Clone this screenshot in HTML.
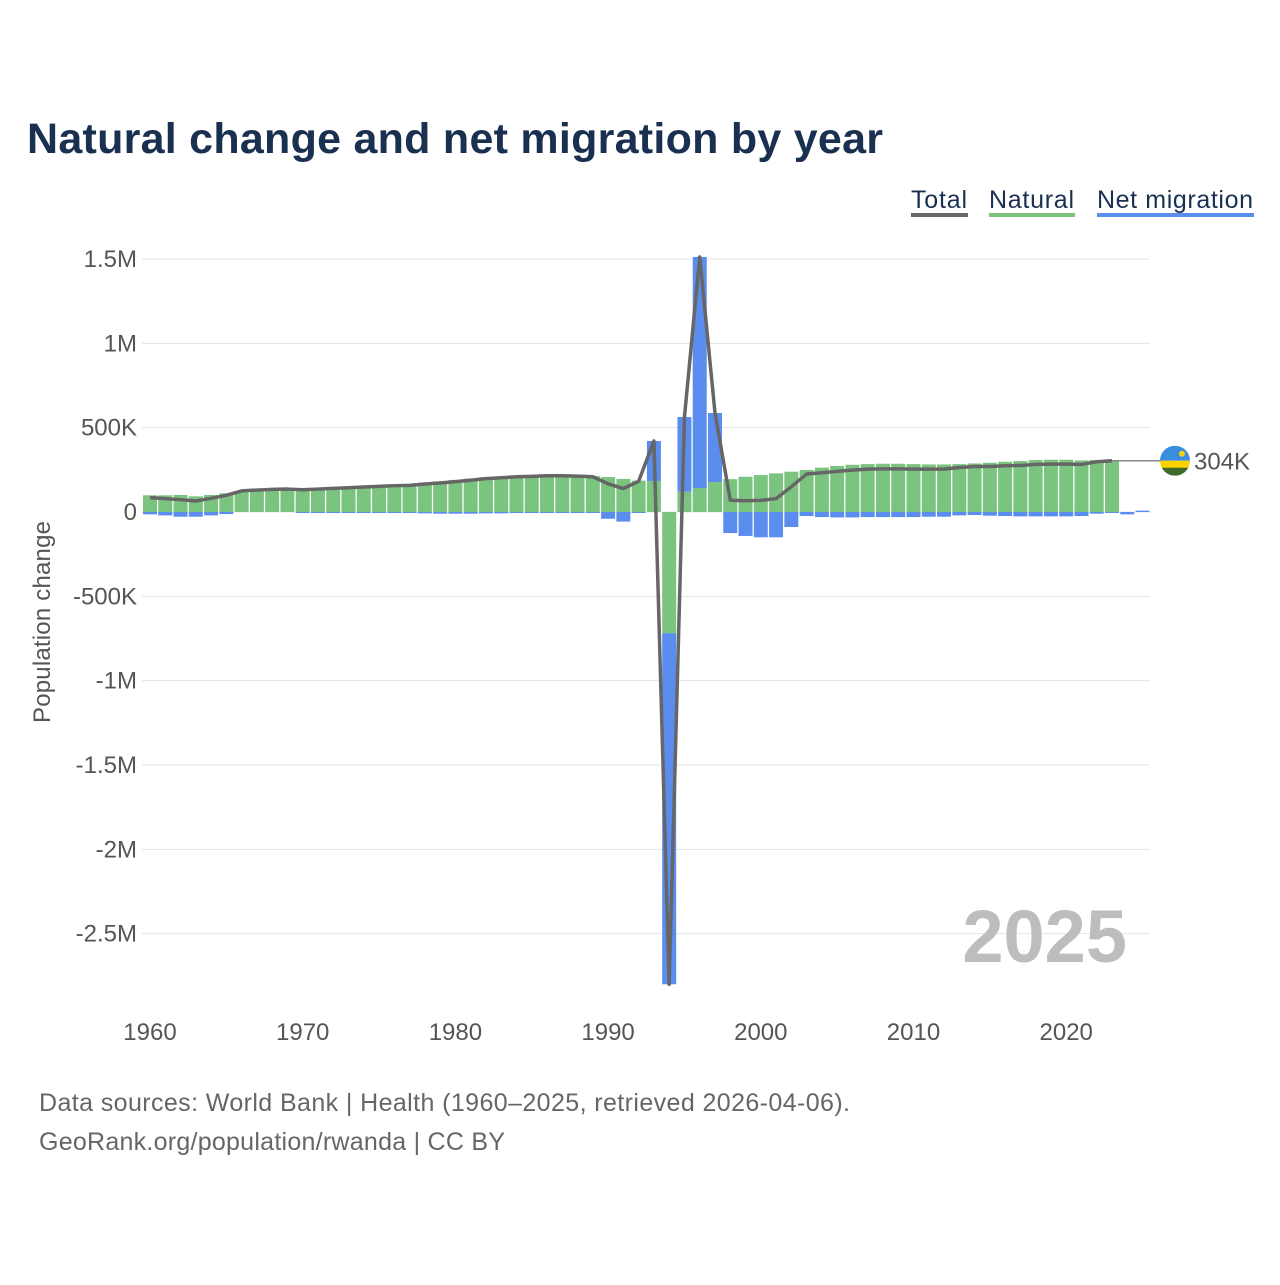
<!DOCTYPE html>
<html><head><meta charset="utf-8"><style>
body{margin:0;background:#fff;width:1280px;height:1280px;overflow:hidden;font-family:"Liberation Sans",sans-serif}
svg text{font-family:"Liberation Sans",sans-serif}
</style></head><body>
<svg id="chart" width="1280" height="1280" xmlns="http://www.w3.org/2000/svg">
<text x="27" y="153" font-size="43" font-weight="bold" fill="#1a3050" textLength="856">Natural change and net migration by year</text>
<g>
<g><text x="911" y="208" font-size="25" fill="#1a3050" textLength="56">Total</text><rect x="911" y="213" width="57" height="4" fill="#666"/></g>
<g><text x="989" y="208" font-size="25" fill="#1a3050" textLength="85">Natural</text><rect x="989" y="213" width="86" height="4" fill="#7bc47f"/></g>
<g><text x="1097" y="208" font-size="25" fill="#1a3050" textLength="156">Net migration</text><rect x="1097" y="213" width="157" height="4" fill="#5b8def"/></g>
</g>
<g id="grid"></g>
<g id="bars"></g>
<g id="line"></g>
<g id="xt"></g>
<text transform="translate(50,622) rotate(-90)" text-anchor="middle" font-size="24" fill="#555" textLength="202">Population change</text>
<text x="1127" y="962" text-anchor="end" font-size="74" font-weight="bold" fill="#bdbdbd">2025</text>
<g id="endlabel"></g>
<text x="39" y="1111" font-size="25" fill="#666" textLength="811">Data sources: World Bank | Health (1960–2025, retrieved 2026-04-06).</text>
<text x="39" y="1150" font-size="25" fill="#666" textLength="466">GeoRank.org/population/rwanda | CC BY</text>
</svg>
<script>
const years=[];for(let y=1960;y<=2025;y++)years.push(y);
const natural=[99,99,101,93,101,111,125,130,134,136,136,140,144,148,152,156,160,164,174,182,190,198,206,211,215,217,219,219,217,213,207,196,186,184,-718,120,142,178,195,209,219,229,239,249,263,273,280,284,286,286,284,282,282,284,288,292,298,302,308,310,310,306,308,308,null,null];
const migration=[-14,-20,-28,-28,-20,-12,0,0,0,0,-4,-4,-4,-4,-4,-4,-4,-6,-8,-10,-10,-10,-8,-8,-6,-6,-4,-4,-4,-4,-40,-57,-4,237,-2082,443,1370,409,-125,-142,-150,-150,-89,-24,-30,-32,-32,-30,-30,-30,-30,-28,-28,-20,-18,-22,-24,-26,-26,-26,-26,-24,-10,-4,-14,8];
const yTicks=[1500,1000,500,0,-500,-1000,-1500,-2000,-2500];
const yTickLabels=["1.5M","1M","500K","0","-500K","-1M","-1.5M","-2M","-2.5M"];
const xTicks=[1960,1970,1980,1990,2000,2010,2020];
const endLabel="304K";
const NS="http://www.w3.org/2000/svg";
const X=y=>150+(y-1960)*15.27;
const Y=v=>512-v*0.16867;
function mk(t,a,p){const e=document.createElementNS(NS,t);for(const k in a)e.setAttribute(k,a[k]);p.appendChild(e);return e;}
const grid=document.getElementById('grid');
yTicks.forEach((v,i)=>{
 const l=mk('line',{x1:142,x2:1150,y1:Y(v),y2:Y(v),stroke:'#e4e4e4','stroke-width':1},grid);
 
 
 const t=mk('text',{x:137,y:Y(v)+8,'text-anchor':'end','font-size':24,fill:'#555'},grid);
 t.textContent=yTickLabels[i];
 
 
});
const xt=document.getElementById('xt');
xTicks.forEach(y=>{
 const t=mk('text',{x:X(y),y:1040,'text-anchor':'middle','font-size':24,fill:'#555'},xt);
 t.textContent=y;
 
 
});
const bars=document.getElementById('bars');
const bw=14;
years.forEach((yr,i)=>{
 const n=natural[i]||0,m=migration[i]||0;
 let pos=0,neg=0;
 [[n,'#7bc47f','bar-natural'],[m,'#5b8def','bar-migration']].forEach(([v,c,name])=>{
  if(!v)return;
  let y0,y1;
  if(v>=0){y0=pos;y1=pos+v;pos=y1;}else{y0=neg;y1=neg+v;neg=y1;}
  const top=Math.min(Y(y0),Y(y1)),h=Math.abs(Y(y1)-Y(y0));
  const r=mk('rect',{x:X(yr)-bw/2,y:top,width:bw,height:Math.max(h,1),fill:c},bars);
  
  
 });
});
const pts=[];
years.forEach((yr,i)=>{if(natural[i]!==null)pts.push([X(yr),Y(natural[i]+migration[i]),natural[i]+migration[i]]);});
const lg=document.getElementById('line');
const pl=mk('polyline',{points:pts.map(p=>p[0]+','+p[1]).join(' '),fill:'none',stroke:'#666','stroke-width':3.5,'stroke-linejoin':'round'},lg);


const last=pts[pts.length-1];
const eg=document.getElementById('endlabel');
const cl=mk('line',{x1:last[0],x2:1162,y1:last[1],y2:last[1],stroke:'#888','stroke-width':1.5},eg);


const cy=last[1],cx=1175;
const defs=mk('defs',{},eg);const cp=mk('clipPath',{id:'fc'},defs);mk('circle',{cx:cx,cy:cy,r:15},cp);
const fl=mk('g',{'clip-path':'url(#fc)'},eg);


mk('rect',{x:cx-15,y:cy-15,width:30,height:15,fill:'#3b8de0'},fl);
mk('rect',{x:cx-15,y:cy,width:30,height:8,fill:'#fad201'},fl);
mk('rect',{x:cx-15,y:cy+7,width:30,height:8,fill:'#3f6b2a'},fl);
mk('circle',{cx:cx+7,cy:cy-7,r:3,fill:'#fad201'},fl);
const et=mk('text',{x:1194,y:cy+9,'font-size':24,fill:'#555'},eg);
et.textContent=endLabel;


</script>
</body></html>
